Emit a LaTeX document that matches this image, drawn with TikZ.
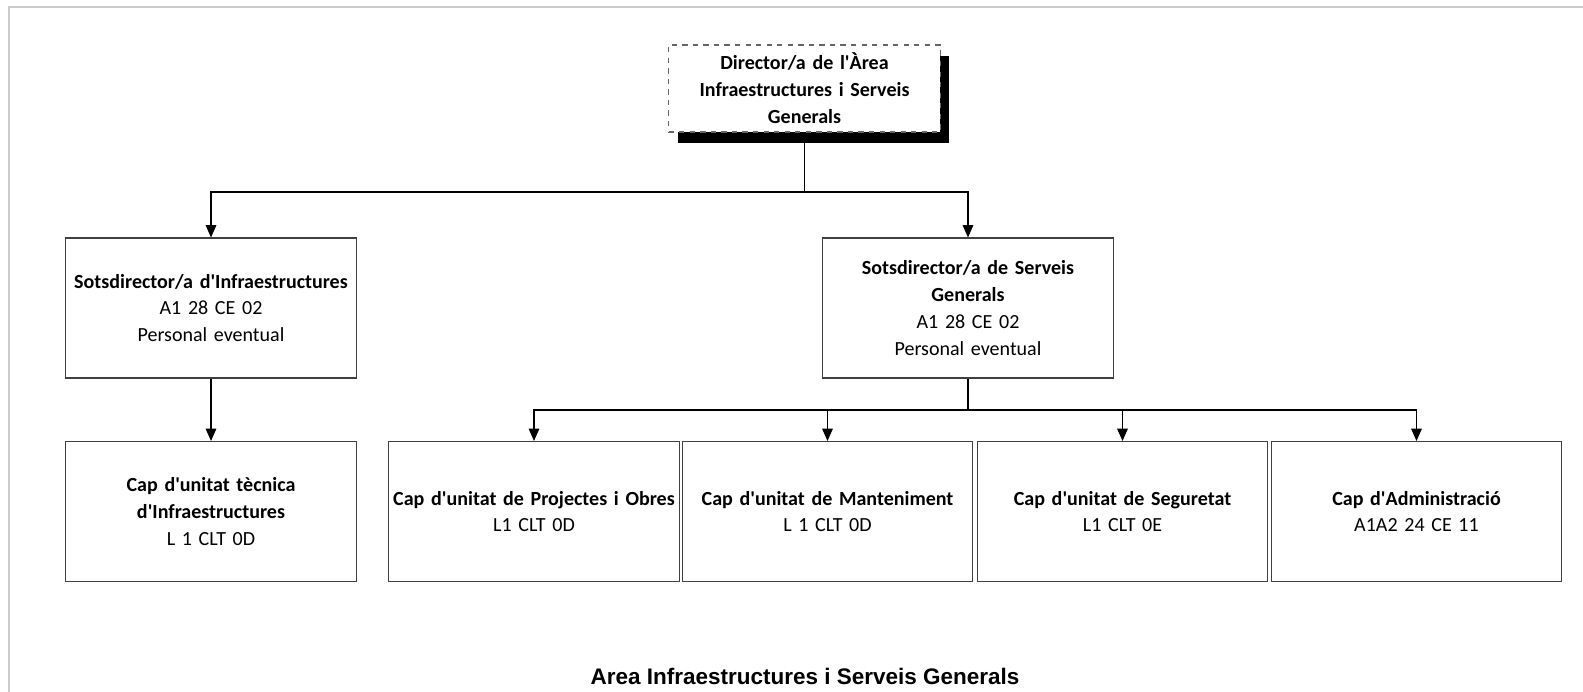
\documentclass[tikz,border=0pt]{standalone}
\usepackage{fontspec}
\setmainfont{Carlito}
\newfontfamily\arialfont{Liberation Sans}
\usetikzlibrary{arrows.meta,shadows}
\newcommand\ap{\textquotesingle}
\tikzset{
  unitbox/.style={draw=black!75, line width=0.6pt, fill=white, align=center, inner sep=1pt,
    minimum width=5.76cm, minimum height=2.8cm, text width=5.74cm, font=\fontsize{11.4}{15.3}\selectfont},
  headbox/.style={draw=black!60, dashed, line width=0.6pt, fill=white, align=center,
    minimum width=5.3cm, minimum height=1.74cm, text width=5.2cm,
    font=\fontsize{11.4}{15.3}\selectfont\bfseries,
    drop shadow={shadow xshift=0.18cm, shadow yshift=-0.22cm, fill=black, opacity=1}},
  link/.style={draw=black, line width=0.6pt},
  arr/.style={link, -{Triangle[width=6pt,length=7pt]}}
}
\begin{document}
\begin{tikzpicture}[x=0.02cm, y=-0.02cm]
  \useasboundingbox (0,0) rectangle (1583,692);
  \draw[black!20, line width=1pt] (9,692) -- (9,7) -- (1583,7); % marc
  % direccio
  \node[headbox] (dir) at (804.5,88.5) {Director/a de l\ap{}Àrea\\Infraestructures i Serveis\\Generals};
  % sotsdireccions
  \node[unitbox] (sinf) at (211,308) {\textbf{Sotsdirector/a d\ap{}Infraestructures}\\A1 28 CE 02\\Personal eventual};
  \node[unitbox] (sser) at (968,308) {\textbf{Sotsdirector/a de Serveis}\\\textbf{Generals}\\A1 28 CE 02\\Personal eventual};
  % unitats
  \node[unitbox] (ctec) at (211,511.5) {\textbf{Cap d\ap{}unitat tècnica}\\\textbf{d\ap{}Infraestructures}\\L 1 CLT 0D};
  \node[unitbox] (cpro) at (534,511.5) {\textbf{Cap d\ap{}unitat de Projectes i Obres}\\L1 CLT 0D};
  \node[unitbox] (cman) at (827.5,511.5) {\textbf{Cap d\ap{}unitat de Manteniment}\\L 1 CLT 0D};
  \node[unitbox] (cseg) at (1122.5,511.5) {\textbf{Cap d\ap{}unitat de Seguretat}\\L1 CLT 0E};
  \node[unitbox] (cadm) at (1416.5,511.5) {\textbf{Cap d\ap{}Administració}\\A1A2 24 CE 11};
  % connexions
  \coordinate (bus1) at (804.5,192);
  \coordinate (bus2) at (968,410);
  \draw[link] (dir.south) -- (bus1);
  \draw[arr] (bus1) -| (sinf.north);
  \draw[arr] (bus1) -| (sser.north);
  \draw[arr] (sinf.south) -- (ctec.north);
  \draw[link] (sser.south) -- (bus2);
  \foreach \u in {cpro,cman,cseg,cadm}
    \draw[arr] (bus2) -| (\u.north);
  % titol
  \node[font=\arialfont\fontsize{12.8}{14}\selectfont\bfseries] (titol) at (805,676) {Area Infraestructures i Serveis Generals};
\end{tikzpicture}
\end{document}
